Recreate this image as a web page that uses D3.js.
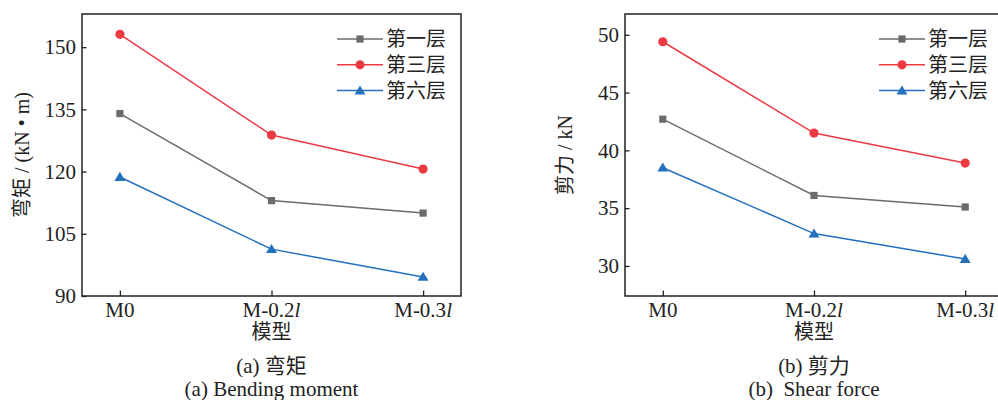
<!DOCTYPE html>
<html>
<head>
<meta charset="utf-8">
<script src="https://cdn.jsdelivr.net/npm/d3@7"></script>
<style>
  html, body { margin: 0; padding: 0; background: #fff; }
  svg { display: block; }
  svg text { font-family: "Liberation Serif", "Times New Roman", Tinos, "DejaVu Serif", "Noto Sans CJK SC", serif; fill: #222; }
</style>
</head>
<body>
<svg id="chart" width="998" height="400"></svg>
<script>
// ---- data ----
const categories = ["M0", "M-0.2l", "M-0.3l"];
const seriesNames = ["第一层", "第三层", "第六层"];
const seriesColors = ["#6b6b6b", "#ec3a43", "#2470bf"];
const seriesMarkers = ["square", "circle", "triangle"];

const momentFloor1 = [134.0, 113.0, 110.0];
const momentFloor3 = [153.1, 128.8, 120.6];
const momentFloor6 = [118.7, 101.3, 94.6];
const momentTicks = [90, 105, 120, 135, 150];

const shearFloor1 = [42.7, 36.1, 35.1];
const shearFloor3 = [49.4, 41.5, 38.9];
const shearFloor6 = [38.5, 32.8, 30.6];
const shearTicks = [30, 35, 40, 45, 50];

const panels = [
  {
    left: 82, right: 461, top: 14, bottom: 296,
    domain: [90, 158], ticks: momentTicks,
    series: [momentFloor1, momentFloor3, momentFloor6],
    yLabel: "弯矩 / (kN • m)", yLabelX: 22,
    caption1: "(a) 弯矩", caption2: "(a) Bending moment"
  },
  {
    left: 625, right: 1003, top: 14, bottom: 296,
    domain: [27.4, 51.8], ticks: shearTicks,
    series: [shearFloor1, shearFloor3, shearFloor6],
    yLabel: "剪力 / kN", yLabelX: 565,
    caption1: "(b) 剪力", caption2: "(b)  Shear force"
  }
];

const svg = d3.select("#chart");

function drawMarker(g, type, x, y, color) {
  if (type === "square") {
    g.append("rect").attr("x", x - 3.6).attr("y", y - 3.6)
      .attr("width", 7.2).attr("height", 7.2).attr("fill", color);
  } else if (type === "circle") {
    g.append("circle").attr("cx", x).attr("cy", y).attr("r", 4.6).attr("fill", color);
  } else {
    const s = 5.2;
    g.append("path")
      .attr("d", `M${x},${y - s} L${x + s * 1.05},${y + s * 0.75} L${x - s * 1.05},${y + s * 0.75} Z`)
      .attr("fill", color);
  }
}

function catLabel(textSel, c) {
  const m = c.match(/^(.*\d)(l)$/);
  if (m) {
    textSel.append("tspan").text(m[1]);
    textSel.append("tspan").attr("font-style", "italic").text(m[2]);
  } else {
    textSel.text(c);
  }
}

panels.forEach(p => {
  const g = svg.append("g");
  const x = d3.scalePoint().domain(categories).range([p.left, p.right]).padding(0.25);
  const y = d3.scaleLinear().domain(p.domain).range([p.bottom, p.top]);

  // frame
  g.append("rect")
    .attr("x", p.left).attr("y", p.top)
    .attr("width", p.right - p.left).attr("height", p.bottom - p.top)
    .attr("fill", "none").attr("stroke", "#222").attr("stroke-width", 1.5);

  // y axis (ticks inward)
  const yAxis = d3.axisLeft(y).tickValues(p.ticks).tickSize(-4.5);
  const ya = g.append("g").attr("transform", `translate(${p.left},0)`).call(yAxis)
    .attr("font-family", null);
  ya.select(".domain").remove();
  ya.selectAll(".tick line").attr("stroke", "#222").attr("stroke-width", 1.3);
  ya.selectAll(".tick text").attr("font-size", 21).attr("fill", "#222").attr("x", -6);

  // x axis (ticks inward)
  const xAxis = d3.axisBottom(x).tickSize(-5.5).tickFormat(() => "");
  const xa = g.append("g").attr("transform", `translate(0,${p.bottom})`).call(xAxis);
  xa.select(".domain").remove();
  xa.selectAll(".tick line").attr("stroke", "#222").attr("stroke-width", 1.3);
  xa.selectAll(".tick text").remove();
  categories.forEach(c => {
    const t = g.append("text").attr("x", x(c)).attr("y", p.bottom + 21)
      .attr("text-anchor", "middle").attr("font-size", 21);
    catLabel(t, c);
  });

  // axis titles
  const cx = x(categories[1]);
  g.append("text").attr("x", cx).attr("y", p.bottom + 43)
    .attr("text-anchor", "middle").attr("font-size", 20).text("模型");
  g.append("text")
    .attr("transform", `translate(${p.yLabelX},${(p.top + p.bottom) / 2}) rotate(-90)`)
    .attr("text-anchor", "middle").attr("dominant-baseline", "central")
    .attr("font-size", 20).text(p.yLabel);

  // captions
  g.append("text").attr("x", cx).attr("y", p.bottom + 77)
    .attr("text-anchor", "middle").attr("font-size", 21).text(p.caption1);
  g.append("text").attr("x", cx).attr("y", p.bottom + 100)
    .attr("text-anchor", "middle").attr("font-size", 21)
    .attr("xml:space", "preserve").style("white-space", "pre").text(p.caption2);

  // lines + markers
  const line = d3.line().x((d, i) => x(categories[i])).y(d => y(d));
  p.series.forEach((vals, si) => {
    g.append("path").datum(vals).attr("d", line)
      .attr("fill", "none").attr("stroke", seriesColors[si]).attr("stroke-width", 1.5);
    vals.forEach((v, i) => drawMarker(g, seriesMarkers[si], x(categories[i]), y(v), seriesColors[si]));
  });

  // legend
  const lx0 = p.right - 124, lx1 = p.right - 78;
  seriesNames.forEach((name, si) => {
    const ly = 39 + si * 25.8;
    g.append("line").attr("x1", lx0).attr("x2", lx1).attr("y1", ly).attr("y2", ly)
      .attr("stroke", seriesColors[si]).attr("stroke-width", 1.5);
    drawMarker(g, seriesMarkers[si], (lx0 + lx1) / 2, ly, seriesColors[si]);
    g.append("text").attr("x", lx1 + 3).attr("y", ly).attr("dominant-baseline", "central")
      .attr("font-size", 20).text(name);
  });
});
</script>
</body>
</html>
